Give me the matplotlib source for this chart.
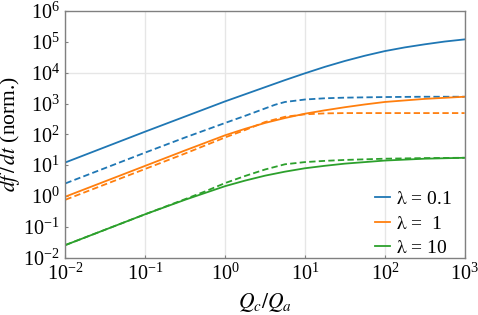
import matplotlib
matplotlib.use("Agg")
import matplotlib.pyplot as plt
import numpy as np

plt.rcParams["font.family"] = ["Liberation Serif", "DejaVu Serif"]
plt.rcParams["mathtext.fontset"] = "stix"

# log10(Q_c/Q_a) sample positions and log10(df/dt)
lx_blue = [-2, -1.5, -1, -0.5, 0, 0.25, 0.5, 0.75, 1, 1.25, 1.5, 1.75, 2, 2.25, 2.5, 2.75, 3]
ly_blue = [1.09, 1.59, 2.09, 2.58, 3.07, 3.30, 3.53, 3.76, 3.98, 4.19, 4.38, 4.55, 4.70, 4.82, 4.92, 5.01, 5.08]

lx_blue_d = [-2, -1, -0.5, 0, 0.25, 0.5, 0.625, 0.75, 1, 1.25, 1.5, 2, 2.5, 3]
ly_blue_d = [0.41, 1.41, 1.90, 2.37, 2.60, 2.84, 2.96, 3.05, 3.13, 3.17, 3.19, 3.21, 3.22, 3.22]

lx_orange = [-2, -1, -0.5, 0, 0.25, 0.5, 0.75, 1, 1.25, 1.5, 1.75, 2, 2.5, 3]
ly_orange = [-0.02, 0.98, 1.48, 1.97, 2.18, 2.37, 2.53, 2.67, 2.78, 2.88, 2.97, 3.05, 3.15, 3.22]

lx_orange_d = [-2, -1, -0.5, 0, 0.25, 0.5, 0.75, 1, 1.25, 1.5, 2, 2.5, 3]
ly_orange_d = [-0.12, 0.88, 1.38, 1.90, 2.14, 2.40, 2.57, 2.65, 2.68, 2.69, 2.69, 2.69, 2.69]

lx_green = [-2, -1.5, -1, -0.5, 0, 0.25, 0.5, 0.75, 1, 1.25, 1.5, 2, 2.5, 3]
ly_green = [-1.59, -1.09, -0.59, -0.12, 0.32, 0.50, 0.66, 0.79, 0.90, 0.98, 1.05, 1.15, 1.21, 1.24]

lx_green_d = [-2, -1.5, -1, -0.5, -0.25, 0, 0.25, 0.5, 0.75, 1, 1.25, 1.5, 2, 2.5, 3]
ly_green_d = [-1.59, -1.09, -0.59, -0.10, 0.15, 0.42, 0.65, 0.86, 1.03, 1.10, 1.14, 1.17, 1.21, 1.23, 1.24]

labels = [r"$\mathrm{\lambda}$ = 0.1", r"$\mathrm{\lambda}$ =  1", r"$\mathrm{\lambda}$ = 10"]
colors = ["#1f77b4", "#ff7f0e", "#2ca02c"]

solid = [(lx_blue, ly_blue), (lx_orange, ly_orange), (lx_green, ly_green)]
dashed = [(lx_blue_d, ly_blue_d), (lx_orange_d, ly_orange_d), (lx_green_d, ly_green_d)]

fig = plt.figure(figsize=(4.78, 3.15), dpi=100)
ax = fig.add_axes([0.137, 0.182, 0.835, 0.783])

for (sx, sy), (dx, dy), c, lab in zip(solid, dashed, colors, labels):
    ax.plot(10 ** np.array(sx), 10 ** np.array(sy), color=c, lw=1.3, label=lab)
    ax.plot(10 ** np.array(dx), 10 ** np.array(dy), color=c, lw=1.3, ls=(0, (3.5, 1.8)))

ax.set_xscale("log")
ax.set_yscale("log")
ax.set_xlim(1e-2, 1e3)
ax.set_ylim(1e-2, 1e6)
ax.set_xticks([1e-2, 1e-1, 1e0, 1e1, 1e2, 1e3])
ax.set_yticks([10.0 ** k for k in range(-2, 7)])
ax.minorticks_off()

ax.grid(True, axis="x", color="#e6e6e6", lw=1.0)
ax.axhline(1e4, color="#e6e6e6", lw=1.0, zorder=0)
ax.set_axisbelow(True)

for s in ax.spines.values():
    s.set_color("#808080")
    s.set_linewidth(1.0)
ax.tick_params(direction="in", length=2.5, width=0.8, color="#808080",
               labelsize=14.5, pad=4)

ax.set_xlabel(r"$Q_c/Q_a$", fontsize=15.5, labelpad=5)
ax.set_ylabel(r"$df\,/\,dt$ (norm.)", fontsize=15.5)
ax.yaxis.set_label_coords(-0.108, 0.5)

ax.legend(loc="lower right", bbox_to_anchor=(0.973, -0.005), frameon=False,
          fontsize=14, handlelength=0.8, handletextpad=0.3, labelspacing=0.35,
          borderaxespad=0, borderpad=0.1)

fig.savefig("out.png", dpi=100)
